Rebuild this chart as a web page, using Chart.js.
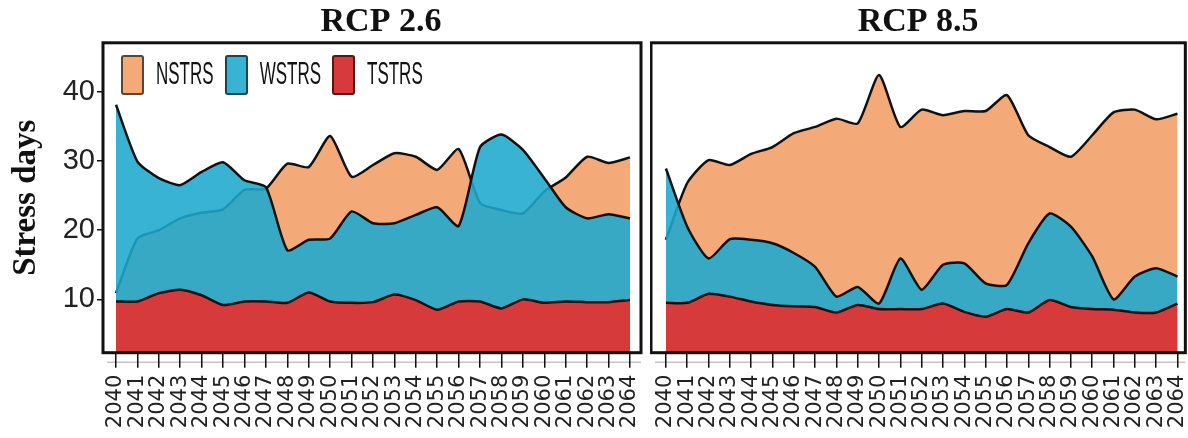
<!DOCTYPE html>
<html>
<head>
<meta charset="utf-8">
<title>Stress days, RCP 2.6 / RCP 8.5</title>
<script src="https://cdn.jsdelivr.net/npm/chart.js@4.4.1/dist/chart.umd.min.js"></script>
<style>
  html, body { margin: 0; background: #fff; }
  #wrap { position: relative; width: 1188px; height: 438px; overflow: hidden; }
  #wrap canvas { position: absolute; top: 0; }
  #rcp26 { left: 0; }
  #rcp85 { left: 650px; }
  #legend { position: absolute; left: 121px; top: 55px; display: flex; align-items: center;
            font: 17px "Liberation Sans", Arial, sans-serif; color: #111; }
  #legend .sw { width: 23px; height: 40px; border-radius: 3px; box-sizing: border-box;
                box-shadow: inset 0 0 0 2px rgba(0, 0, 0, .6); }
  #legend .lb { margin: 0 11px 0 12px; transform: scaleY(1.8); }
</style>
</head>
<body>
<div id="wrap">
  <canvas id="rcp26" width="762" height="438"></canvas>
  <canvas id="rcp85" width="560" height="438"></canvas>
  <div id="legend"></div>
</div>
<script>
const years = [2040, 2041, 2042, 2043, 2044, 2045, 2046, 2047, 2048, 2049, 2050, 2051, 2052,
               2053, 2054, 2055, 2056, 2057, 2058, 2059, 2060, 2061, 2062, 2063, 2064];
const yTicks = [10, 20, 30, 40];

// RCP 2.6
const nstrs26 = [10.9, 18.8, 20.0, 21.7, 22.5, 23.0, 25.8, 26.0, 29.6, 29.1, 33.6, 27.7, 29.4,
                 31.1, 30.6, 28.7, 31.7, 23.9, 22.9, 22.4, 25.6, 27.6, 30.6, 29.7, 30.5];
const wstrs26 = [38.1, 29.9, 27.5, 26.5, 28.4, 29.8, 27.2, 26.2, 17.1, 18.6, 18.8, 22.7, 21.0,
                 21.0, 22.2, 23.3, 20.6, 32.0, 33.8, 31.6, 27.5, 23.3, 21.7, 22.3, 21.7];
const tstrs26 = [9.7, 9.7, 10.9, 11.4, 10.6, 9.2, 9.7, 9.7, 9.5, 11.0, 9.7, 9.5, 9.6,
                 10.7, 9.9, 8.5, 9.7, 9.7, 8.7, 10.0, 9.5, 9.7, 9.6, 9.6, 9.9];

// RCP 8.5
const nstrs85 = [18.6, 26.8, 30.1, 29.4, 31.0, 32.0, 34.0, 34.9, 36.1, 35.4, 42.4, 34.9, 37.4,
                 36.6, 37.2, 37.2, 39.5, 33.7, 32.0, 30.6, 33.7, 37.0, 37.4, 36.0, 36.8];
const wstrs85 = [28.9, 20.5, 15.9, 18.7, 18.6, 18.1, 16.7, 14.7, 10.4, 11.8, 9.4, 15.9, 11.4,
                 15.0, 15.2, 12.3, 12.1, 18.1, 22.4, 20.5, 16.2, 10.0, 13.3, 14.5, 13.3];
const tstrs85 = [9.5, 9.5, 10.8, 10.4, 9.7, 9.2, 9.0, 8.9, 8.1, 9.2, 8.6, 8.6, 8.6,
                 9.4, 8.2, 7.5, 8.6, 8.1, 9.9, 8.9, 8.6, 8.5, 8.1, 8.1, 9.4];

const colors = {
  NSTRS: '#F3AA78',
  WSTRS: 'rgba(30, 168, 206, 0.88)',
  TSTRS: '#D73A3A'
};

function toPoints(vals) {
  return years.map((yr, i) => ({ x: yr, y: vals[i] }));
}

function areaSet(label, vals) {
  return {
    label: label,
    data: toPoints(vals),
    backgroundColor: colors[label],
    borderColor: '#111',
    borderWidth: 2.5,
    fill: 'start',
    tension: 0.2,
    pointRadius: 0
  };
}

// black frame round the plot + the thin line the year ticks hang from
const framePlugin = {
  id: 'frame',
  afterDatasetsDraw(chart) {
    const { ctx, chartArea: a } = chart;
    ctx.save();
    ctx.strokeStyle = 'rgba(0, 0, 0, 0.35)';
    ctx.lineWidth = 1;
    ctx.beginPath();
    ctx.moveTo(a.left + 4, a.bottom + 9.5);
    ctx.lineTo(a.right, a.bottom + 9.5);
    ctx.stroke();
    ctx.strokeStyle = '#111';
    ctx.lineWidth = 3;
    ctx.strokeRect(a.left, a.top, a.width, a.height);
    ctx.restore();
  }
};

// move the title so it sits a few px right of the plot's centre
function titleShift(dx) {
  return {
    id: 'titleShift',
    afterLayout(chart) {
      const tb = chart.titleBlock;
      const half = (tb.right - tb.left) / 2;
      const mid = (chart.chartArea.left + chart.chartArea.right) / 2 + dx;
      tb.left = mid - half;
      tb.right = mid + half;
    }
  };
}

function panel(id, title, n, w, t, xMin, xMax, padding, showY, dx) {
  return new Chart(document.getElementById(id), {
    type: 'line',
    // first dataset is painted last, so TSTRS sits on top
    data: { datasets: [areaSet('TSTRS', t), areaSet('WSTRS', w), areaSet('NSTRS', n)] },
    options: {
      responsive: false,
      animation: false,
      layout: { padding: padding },
      plugins: {
        legend: { display: false },
        tooltip: { enabled: false },
        title: {
          display: true,
          text: title,
          color: '#111',
          font: { family: '"Liberation Serif", "Times New Roman", serif', size: 34, weight: 'bold', lineHeight: 1.2 },
          padding: { top: 2, bottom: 0 }
        }
      },
      scales: {
        x: {
          type: 'linear',
          min: xMin,
          max: xMax,
          afterBuildTicks: s => { s.ticks = years.map(v => ({ value: v })); },
          afterFit: s => { s.height = 85.3; },
          border: { display: false },
          grid: { drawOnChartArea: false, tickLength: 15, color: '#111', lineWidth: 1.5 },
          ticks: {
            autoSkip: false, minRotation: 90, maxRotation: 90, padding: 7,
            color: '#222',
            font: { family: '"DejaVu Sans", sans-serif', size: 21 },
            callback: v => String(v)
          }
        },
        y: {
          display: showY,
          min: 2.3,
          max: 47.05,
          afterBuildTicks: s => { s.ticks = yTicks.map(v => ({ value: v })); },
          afterFit: s => { if (showY) s.width = 103; },
          border: { display: false },
          grid: { drawOnChartArea: false, tickLength: 6, color: '#111', lineWidth: 1.5 },
          ticks: {
            padding: 2,
            color: '#222',
            font: { family: '"Liberation Sans Narrow", "Arial Narrow", "Liberation Sans", sans-serif', size: 29 }
          },
          title: {
            display: true,
            text: 'Stress days',
            color: '#111',
            font: { family: '"Liberation Serif", "Times New Roman", serif', size: 33, weight: 'bold', lineHeight: 1.2 },
            padding: { top: 7, bottom: 0 }
          }
        }
      }
    },
    plugins: [framePlugin, titleShift(dx)]
  });
}

const left = panel('rcp26', 'RCP 2.6', nstrs26, wstrs26, tstrs26,
                   2039.393, 2064.514, { left: 0, right: 121, top: 0, bottom: 0 }, true, 9);
panel('rcp85', 'RCP 8.5', nstrs85, wstrs85, tstrs85,
      2039.30, 2064.37, { left: 1, right: 23, top: 0, bottom: 0 }, false, 0);

// legend built from the left chart's datasets, NSTRS first
const legendBox = document.getElementById('legend');
Chart.defaults.plugins.legend.labels.generateLabels(left).reverse().forEach(item => {
  const sw = document.createElement('span');
  sw.className = 'sw';
  sw.style.background = item.fillStyle;
  const lb = document.createElement('span');
  lb.className = 'lb';
  lb.textContent = item.text;
  legendBox.appendChild(sw);
  legendBox.appendChild(lb);
});
</script>
</body>
</html>
